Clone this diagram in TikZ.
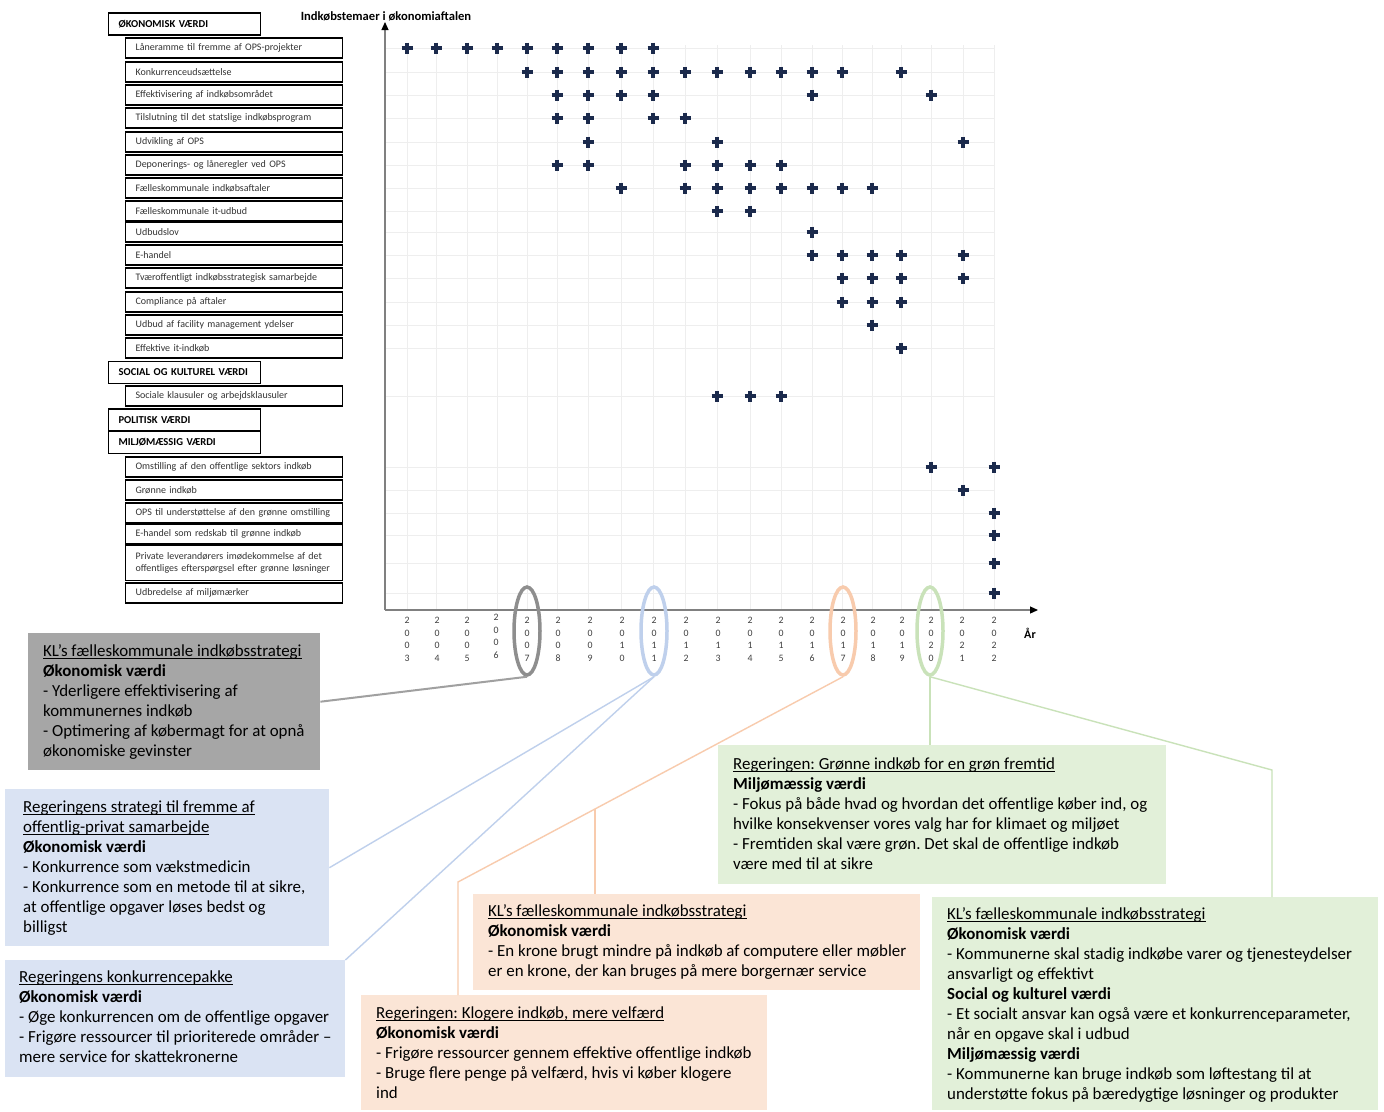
\documentclass[tikz,border=0pt]{standalone}
\usepackage{fontspec}
\setmainfont{Carlito}
\usetikzlibrary{shapes.geometric,calc,arrows.meta}
\frenchspacing

\definecolor{lbltxt}{HTML}{333333}
\definecolor{yrtxt}{HTML}{404040}
\definecolor{gridc}{HTML}{EEEEEE}
\definecolor{axisc}{HTML}{808080}
\definecolor{markc}{HTML}{1B2A4C}
\definecolor{fgray}{HTML}{A6A6A6}
\definecolor{fblue}{HTML}{DAE3F3}
\definecolor{forange}{HTML}{FBE5D6}
\definecolor{fgreen}{HTML}{E2F0D9}
\definecolor{egray}{HTML}{8E8E8E}
\definecolor{eblue}{HTML}{BFD0EC}
\definecolor{eorange}{HTML}{F8CBAD}
\definecolor{egreen}{HTML}{C9E2B9}
\definecolor{lgray}{HTML}{A0A0A0}

\newcommand\lblfont{\fontsize{10}{12}\selectfont}
\newcommand\hdrfont{\fontsize{10.6}{12}\selectfont\bfseries}
\newcommand\callfont{\fontsize{16.9}{20}\selectfont}
\newcommand\yrfont{\fontsize{9.8}{12.5}\selectfont}
% underline at a fixed depth below the baseline
\newcommand\ulx[1]{\leavevmode\setbox0\hbox{#1}\rlap{\rule[-2.6pt]{\wd0}{0.9pt}}\box0}

\tikzset{
  itembox/.style={draw=black, line width=1.2pt, fill=white, anchor=west,
    inner xsep=10pt, inner ysep=0pt, text width=197pt, minimum height=20pt,
    align=left, font=\lblfont, text=lbltxt},
  hdrbox/.style={draw=black, line width=1.2pt, fill=white, anchor=west,
    inner xsep=10pt, inner ysep=0pt, text width=132pt, minimum height=22pt,
    align=left, font=\hdrfont, text=black},
  gridln/.style={draw=gridc, line width=1pt},
  axisln/.style={draw=axisc, line width=1.2pt},
  plusmk/.style={draw=markc, line width=3.2pt},
  yrlab/.style={align=center, font=\yrfont, text=yrtxt, inner sep=0pt},
  ring/.style={ellipse, draw, line width=3.5pt, minimum width=26pt,
    minimum height=88pt, inner sep=0pt},
  callbox/.style={anchor=north west, draw=none, inner sep=0pt},
  calltext/.style={anchor=north west, inner sep=0pt, align=left,
    font=\callfont, text=black},
  conn/.style={line width=1.4pt},
}

\begin{document}
\begin{tikzpicture}[x=1pt,y=-1pt]
\useasboundingbox (0,0) rectangle (1384,1111);
\fill[white] (0,0) rectangle (1384,1111);

% axis origin, top of grid, axis ends
\coordinate (O) at (385,610);
\coordinate (gtop) at (0,45);
\coordinate (ytop) at (385,22);
\coordinate (xend) at (1038,610);

% year columns
\foreach \yr/\xx in {2003/407,2004/436,2005/467,2006/497,2007/527,2008/557,
  2009/588,2010/621,2011/653,2012/685,2013/717,2014/750,2015/781,2016/812,
  2017/842,2018/872,2019/901,2020/931,2021/963,2022/994}
  \coordinate (y\yr) at (\xx,610);

% theme rows
\foreach \r/\yy in {1/48,2/72,3/95,4/118,5/142,6/165,7/188,8/211,9/232,
  10/255,11/278,12/302,13/325,14/348,15/396,16/467,17/490,18/513,19/535,
  20/563,21/593}
  \coordinate (r\r) at (0,\yy);

% grid
\foreach \yr in {2003,...,2022}
  \draw[gridln] (y\yr |- gtop) -- (y\yr |- O);
\foreach \r in {1,...,21}
  \draw[gridln] (O |- r\r) -- (y2022 |- r\r);

% axes
\draw[axisln, -{Triangle[length=8pt,width=7pt,color=black]}] (O) -- (ytop);
\draw[axisln, -{Triangle[length=8pt,width=7pt,color=black]}] (O) -- (xend);
\node[font=\fontsize{12.6}{14}\selectfont\bfseries] (ytitle)
  at (386,16) {Indkøbstemaer i økonomiaftalen};
\node[font=\fontsize{12}{14}\selectfont\bfseries] (xtitle) at (1030,633) {År};

% year labels
\foreach \yr/\xx/\c/\d/\dy in {2003/407/0/3/0,2004/437/0/4/0,2005/467/0/5/0,
  2006/496/0/6/-3,2007/527/0/7/0,2008/558/0/8/0,2009/590/0/9/0,2010/622/1/0/0,
  2011/654/1/1/0,2012/686/1/2/0,2013/718/1/3/0,2014/750/1/4/0,2015/781/1/5/0,
  2016/812/1/6/0,2017/843/1/7/0,2018/873/1/8/0,2019/902/1/9/0,2020/931/2/0/0,
  2021/962/2/1/0,2022/994/2/2/0}
  \node[yrlab] (t\yr) at (\xx,639.5+\dy) {2\\0\\\c\\\d};

% markers
\foreach \r/\ys in {
  1/{2003,2004,2005,2006,2007,2008,2009,2010,2011},
  2/{2007,2008,2009,2010,2011,2012,2013,2014,2015,2016,2017,2019},
  3/{2008,2009,2010,2011,2016,2020},
  4/{2008,2009,2011,2012},
  5/{2009,2013,2021},
  6/{2008,2009,2012,2013,2014,2015},
  7/{2010,2012,2013,2014,2015,2016,2017,2018},
  8/{2013,2014},
  9/{2016},
  10/{2016,2017,2018,2019,2021},
  11/{2017,2018,2019,2021},
  12/{2017,2018,2019},
  13/{2018},
  14/{2019},
  15/{2013,2014,2015},
  16/{2020,2022},
  17/{2021},
  18/{2022},
  19/{2022},
  20/{2022},
  21/{2022}}
  \foreach \yr in \ys {
    \coordinate (p) at (y\yr |- r\r);
    \draw[plusmk] ($(p)+(-5.5,0)$) -- ($(p)+(5.5,0)$)
                  ($(p)+(0,-5.5)$) -- ($(p)+(0,5.5)$);
  };

% category headers and themes
\node[hdrbox] (H1) at (108,24) {ØKONOMISK VÆRDI};
\node[itembox] (L1) at (125,48) {Låneramme til fremme af OPS-projekter};
\node[itembox] (L2) at (125,72) {Konkurrenceudsættelse};
\node[itembox] (L3) at (125,95) {Effektivisering af indkøbsområdet};
\node[itembox] (L4) at (125,118) {Tilslutning til det statslige indkøbsprogram};
\node[itembox] (L5) at (125,142) {Udvikling af OPS};
\node[itembox] (L6) at (125,165) {Deponerings- og låneregler ved OPS};
\node[itembox] (L7) at (125,188) {Fælleskommunale indkøbsaftaler};
\node[itembox] (L8) at (125,211) {Fælleskommunale it-udbud};
\node[itembox] (L9) at (125,232) {Udbudslov};
\node[itembox] (L10) at (125,255) {E-handel};
\node[itembox] (L11) at (125,278) {Tværoffentligt indkøbsstrategisk samarbejde};
\node[itembox] (L12) at (125,302) {Compliance på aftaler};
\node[itembox] (L13) at (125,325) {Udbud af facility management ydelser};
\node[itembox] (L14) at (125,348) {Effektive it-indkøb};
\node[hdrbox] (H2) at (108,372.5) {SOCIAL OG KULTUREL VÆRDI};
\node[itembox] (L15) at (125,396) {Sociale klausuler og arbejdsklausuler};
\node[hdrbox] (H3) at (108,420) {POLITISK VÆRDI};
\node[hdrbox] (H4) at (108,442.5) {MILJØMÆSSIG VÆRDI};
\node[itembox] (L16) at (125,467) {Omstilling af den offentlige sektors indkøb};
\node[itembox] (L17) at (125,490) {Grønne indkøb};
\node[itembox] (L18) at (125,513) {OPS til understøttelse af den grønne omstilling};
\node[itembox] (L19) at (125,534) {E-handel som redskab til grønne indkøb};
\node[itembox, minimum height=35pt] (L20) at (125,563)
  {Private leverandørers imødekommelse af det\\offentliges efterspørgsel efter grønne løsninger};
\node[itembox] (L21) at (125,593) {Udbredelse af miljømærker};

% highlighted years
\node[ring, draw=egray] (e07) at (527,631) {};
\node[ring, draw=eblue] (e11) at (654,631) {};
\node[ring, draw=eorange] (e17) at (843,631) {};
\node[ring, draw=egreen] (e20) at (930,631) {};

% callout boxes
\node[callbox, fill=fgray, minimum width=292pt, minimum height=137pt] (gbox) at (28,633) {};
\node[callbox, fill=fblue, minimum width=324pt, minimum height=157pt] (bbox1) at (5,789) {};
\node[callbox, fill=fblue, minimum width=340pt, minimum height=117pt] (bbox2) at (5,960) {};
\node[callbox, fill=forange, minimum width=447pt, minimum height=96pt] (obox1) at (473,894) {};
\node[callbox, fill=forange, minimum width=406pt, minimum height=115pt] (obox2) at (361,995) {};
\node[callbox, fill=fgreen, minimum width=448pt, minimum height=139pt] (gbox1) at (718,745) {};
\node[callbox, fill=fgreen, minimum width=446pt, minimum height=213pt] (gbox2) at (932,897) {};

% connectors
\coordinate (oc1) at (458,882);
\coordinate (ob1) at ($(e17.south)!0.6442!(oc1)$);
\coordinate (gc1) at (1272,770);
\draw[conn, draw=lgray, line width=2pt] (e07.south) -- (gbox.east);
\draw[conn, draw=eblue] (e11.south) -- (bbox1.east);
\draw[conn, draw=eblue] (e11.south) -- (bbox2.north east);
\draw[conn, draw=eorange] (e17.south) -- (oc1) -- (oc1 |- obox2.north);
\draw[conn, draw=eorange] (ob1) -- (ob1 |- obox1.north);
\draw[conn, draw=egreen] (e20.south) -- (e20.south |- gbox1.north);
\draw[conn, draw=egreen] (e20.south) -- (gc1) -- (gc1 |- gbox2.north);

% callout texts
\node[calltext] (gtext) at ($(gbox.north west)+(15,9)$) {\strut\ulx{KL’s fælleskommunale indkøbsstrategi}\\
\textbf{Økonomisk værdi}\\
- Yderligere effektivisering af\\
kommunernes indkøb\\
- Optimering af købermagt for at opnå\\
økonomiske gevinster};

\node[calltext] (btext1) at ($(bbox1.north west)+(18,9)$) {\strut\ulx{Regeringens strategi til fremme af}\\
\ulx{offentlig-privat samarbejde}\\
\textbf{Økonomisk værdi}\\
- Konkurrence som vækstmedicin\\
- Konkurrence som en metode til at sikre,\\
at offentlige opgaver løses bedst og\\
billigst};

\node[calltext] (btext2) at ($(bbox2.north west)+(14,8)$) {\strut\ulx{Regeringens konkurrencepakke}\\
\textbf{Økonomisk værdi}\\
- Øge konkurrencen om de offentlige opgaver\\
- Frigøre ressourcer til prioriterede områder –\\
mere service for skattekronerne};

\node[calltext] (otext1) at ($(obox1.north west)+(15,8)$) {\strut\ulx{KL’s fælleskommunale indkøbsstrategi}\\
\textbf{Økonomisk værdi}\\
- En krone brugt mindre på indkøb af computere eller møbler\\
er en krone, der kan bruges på mere borgernær service};

\node[calltext] (otext2) at ($(obox2.north west)+(15,9)$) {\strut\ulx{Regeringen: Klogere indkøb, mere velfærd}\\
\textbf{Økonomisk værdi}\\
- Frigøre ressourcer gennem effektive offentlige indkøb\\
- Bruge flere penge på velfærd, hvis vi køber klogere\\
ind};

\node[calltext] (gtext1) at ($(gbox1.north west)+(15,10)$) {\strut\ulx{Regeringen: Grønne indkøb for en grøn fremtid}\\
\textbf{Miljømæssig værdi}\\
- Fokus på både hvad og hvordan det offentlige køber ind, og\\
hvilke konsekvenser vores valg har for klimaet og miljøet\\
- Fremtiden skal være grøn. Det skal de offentlige indkøb\\
være med til at sikre};

\node[calltext] (gtext2) at ($(gbox2.north west)+(15,8)$) {\strut\ulx{KL’s fælleskommunale indkøbsstrategi}\\
\textbf{Økonomisk værdi}\\
- Kommunerne skal stadig indkøbe varer og tjenesteydelser\\
ansvarligt og effektivt\\
\textbf{Social og kulturel værdi}\\
- Et socialt ansvar kan også være et konkurrenceparameter,\\
når en opgave skal i udbud\\
\textbf{Miljømæssig værdi}\\
- Kommunerne kan bruge indkøb som løftestang til at\\
understøtte fokus på bæredygtige løsninger og produkter};
\end{tikzpicture}
\end{document}
